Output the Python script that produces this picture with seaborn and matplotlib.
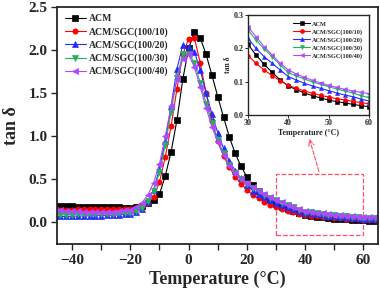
import matplotlib
matplotlib.use("Agg")
import matplotlib.pyplot as plt
from matplotlib.patches import Rectangle
from matplotlib.ticker import FormatStrFormatter
import seaborn as sns

# temperature (°C) and tan delta
temp = [-46, -44, -42, -40, -38, -36, -34, -32, -30, -28, -26, -24, -22, -20,
        -18, -16, -14, -12, -10, -8, -6, -4, -2, 0, 2, 4, 6, 8, 10, 12, 14,
        16, 18, 20, 22, 24, 26, 28, 30, 32, 34, 36, 38, 40, 42, 44, 46, 48,
        50, 52, 54, 56, 58, 60, 62, 64, 66]

acm = [0.19, 0.19, 0.19, 0.19, 0.185, 0.185, 0.18, 0.18, 0.18, 0.178, 0.175,
       0.175, 0.172, 0.17, 0.175, 0.19, 0.22, 0.26, 0.33, 0.54, 0.82, 1.19,
       1.66, 2.02, 2.21, 2.14, 1.95, 1.71, 1.46, 1.22, 0.99, 0.80, 0.65, 0.53,
       0.44, 0.37, 0.31, 0.26, 0.212, 0.18, 0.152, 0.128, 0.105, 0.087, 0.076,
       0.066, 0.058, 0.051, 0.045, 0.040, 0.036, 0.032, 0.028, 0.025, 0.022,
       0.020, 0.018]

sgc_10 = [0.14, 0.14, 0.145, 0.15, 0.155, 0.16, 0.16, 0.16, 0.16, 0.16, 0.158,
          0.157, 0.157, 0.16, 0.17, 0.19, 0.23, 0.30, 0.47, 0.76, 1.12, 1.55,
          1.95, 2.13, 2.14, 1.85, 1.50, 1.18, 0.94, 0.77, 0.64, 0.53, 0.45,
          0.38, 0.32, 0.28, 0.24, 0.205, 0.178, 0.155, 0.135, 0.118, 0.102,
          0.089, 0.080, 0.072, 0.065, 0.059, 0.054, 0.049, 0.045, 0.041,
          0.037, 0.034, 0.031, 0.029, 0.027]

sgc_20 = [0.07, 0.07, 0.07, 0.072, 0.074, 0.075, 0.077, 0.078, 0.08, 0.082,
          0.085, 0.088, 0.093, 0.10, 0.12, 0.16, 0.24, 0.38, 0.62, 0.95, 1.35,
          1.78, 2.06, 2.04, 1.98, 1.77, 1.50, 1.26, 1.04, 0.86, 0.71, 0.60,
          0.51, 0.43, 0.37, 0.33, 0.29, 0.26, 0.23, 0.20, 0.175, 0.155, 0.135,
          0.115, 0.105, 0.095, 0.087, 0.080, 0.073, 0.066, 0.060, 0.055,
          0.048, 0.042, 0.040, 0.038, 0.036]

sgc_30 = [0.09, 0.09, 0.09, 0.092, 0.094, 0.095, 0.097, 0.098, 0.10, 0.10,
          0.102, 0.105, 0.108, 0.11, 0.13, 0.17, 0.25, 0.37, 0.58, 0.90, 1.28,
          1.68, 1.95, 1.96, 1.85, 1.62, 1.38, 1.15, 0.96, 0.80, 0.67, 0.57,
          0.50, 0.45, 0.40, 0.36, 0.32, 0.285, 0.255, 0.225, 0.198, 0.175,
          0.15, 0.127, 0.117, 0.108, 0.099, 0.092, 0.085, 0.078, 0.072, 0.066,
          0.058, 0.052, 0.050, 0.048, 0.046]

sgc_40 = [0.14, 0.14, 0.135, 0.13, 0.128, 0.126, 0.125, 0.125, 0.125, 0.126,
          0.127, 0.13, 0.14, 0.15, 0.18, 0.23, 0.32, 0.46, 0.68, 1.00, 1.35,
          1.66, 1.90, 1.95, 1.80, 1.57, 1.33, 1.11, 0.93, 0.78, 0.66, 0.57,
          0.50, 0.46, 0.41, 0.37, 0.33, 0.295, 0.264, 0.235, 0.205, 0.18,
          0.155, 0.135, 0.123, 0.113, 0.104, 0.096, 0.089, 0.083, 0.077,
          0.072, 0.068, 0.064, 0.061, 0.058, 0.056]

labels = ["ACM", "ACM/SGC(100/10)", "ACM/SGC(100/20)", "ACM/SGC(100/30)",
          "ACM/SGC(100/40)"]
curves = [acm, sgc_10, sgc_20, sgc_30, sgc_40]
colors = ["black", "#ff0000", "#2a2aff", "#22b25c", "#b048ff"]
markers = ["s", "o", "^", "v", "<"]

sns.set_style("ticks")
plt.rcParams["font.family"] = ["Liberation Serif", "DejaVu Serif"]
plt.rcParams["font.weight"] = "bold"
plt.rcParams["axes.labelweight"] = "bold"

fig = plt.figure(figsize=(3.8, 2.96), dpi=100)
ax = fig.add_axes([0.1513, 0.1757, 0.8434, 0.8007])

for lab, vals, col, mk in zip(labels, curves, colors, markers):
    sns.lineplot(x=temp, y=vals, ax=ax, color=col, marker=mk, markersize=3.8,
                 markeredgecolor=col, markeredgewidth=0.5, linewidth=0.8,
                 label=lab)

ax.set_xlim(-45, 65)
ax.set_ylim(-0.25, 2.5)
ax.set_xticks([-40, -20, 0, 20, 40, 60])
ax.set_xticks([-30, -10, 10, 30, 50], minor=True)
ax.set_yticks([0.0, 0.5, 1.0, 1.5, 2.0, 2.5])
ax.yaxis.set_major_formatter(FormatStrFormatter("%.1f"))
ax.tick_params(which="major", length=4, width=1.0, labelsize=11, pad=3)
ax.tick_params(axis="x", which="minor", length=4, width=1.0)
for s in ax.spines.values():
    s.set_linewidth(1.3)
ax.set_xlabel("Temperature (°C)", fontsize=13, labelpad=3)
ax.set_ylabel("tan δ", fontsize=13, labelpad=6)
ax.legend(loc="upper left", frameon=False, fontsize=7, handlelength=2.2,
          handletextpad=0.3, labelspacing=0.38, borderaxespad=0.35)

# zoom box and pointer to the inset
ax.add_patch(Rectangle((30, -0.15), 30, 0.71, fill=False, ls="--",
                       ec="#ff4d6a", lw=0.9))
ax.annotate("", xy=(41.2, 1.0), xytext=(45, 0.56),
            arrowprops=dict(arrowstyle="->", ls="--", color="#ff4d6a", lw=0.8))

# inset
axin = fig.add_axes([0.6526, 0.6115, 0.3184, 0.3378])
for lab, vals, col, mk in zip(labels, curves, colors, markers):
    sns.lineplot(x=temp, y=vals, ax=axin, color=col, marker=mk, markersize=2.9,
                 markeredgecolor=col, markeredgewidth=0.4, linewidth=0.8,
                 label=lab)
axin.set_xlim(30, 60)
axin.set_ylim(0, 0.3)
axin.set_xticks([30, 40, 50, 60])
axin.set_yticks([0.0, 0.1, 0.2, 0.3])
axin.yaxis.set_major_formatter(FormatStrFormatter("%.1f"))
axin.tick_params(length=2, width=0.7, labelsize=5.8, pad=1)
for s in axin.spines.values():
    s.set_linewidth(1.0)
axin.set_xlabel("Temperature (°C)", fontsize=5.8, labelpad=1)
axin.set_ylabel("tan δ", fontsize=5.5, labelpad=1)
axin.legend(loc="upper right", frameon=False, fontsize=4.5, handlelength=2.6,
            handletextpad=0.3, labelspacing=0.35, borderaxespad=0.6)

fig.savefig("out.png", dpi=100)
plt.close(fig)
